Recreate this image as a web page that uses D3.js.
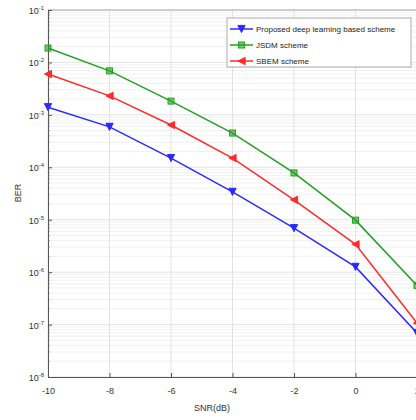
<!DOCTYPE html>
<html lang="en">
<head>
<meta charset="UTF-8">
<title>BER vs SNR</title>
<script src="https://d3js.org/d3.v7.min.js"></script>
<style>
  body { margin: 0; background: #fff; }
  svg { font-family: "Liberation Sans", Arial, sans-serif; display: block; }
</style>
</head>
<body>
<svg id="chart" width="416" height="420"></svg>
<script>
  // data
  var snr = [-10, -8, -6, -4, -2, 0, 2];
  var proposed = [1.4e-3, 5.9e-4, 1.5e-4, 3.4e-5, 6.9e-6, 1.26e-6, 6.9e-8];
  var jsdm = [1.88e-2, 6.9e-3, 1.83e-3, 4.5e-4, 7.8e-5, 9.8e-6, 5.6e-7];
  var sbem = [6.0e-3, 2.3e-3, 6.4e-4, 1.5e-4, 2.4e-5, 3.4e-6, 1.07e-7];
  var seriesNames = ["Proposed deep learning based scheme", "JSDM scheme", "SBEM scheme"];
  var xTicks = [-10, -8, -6, -4, -2, 0, 2];
  var yExps = [-1, -2, -3, -4, -5, -6, -7, -8];

  var svg = d3.select("#chart");
  var plotLeft = 48, plotRight = 417, plotTop = 10, plotBottom = 377;

  var x = d3.scaleLinear().domain([-10, 2]).range([plotLeft, plotRight]);
  var y = d3.scaleLog().domain([1e-8, 1e-1]).range([plotBottom, plotTop]);

  // minor grid
  var minor = [];
  for (var e = -8; e < -1; e++) {
    for (var m = 2; m <= 9; m++) minor.push(m * Math.pow(10, e));
  }
  svg.append("g").selectAll("line").data(minor).enter().append("line")
    .attr("x1", plotLeft).attr("x2", plotRight)
    .attr("y1", function(d) { return y(d); }).attr("y2", function(d) { return y(d); })
    .attr("stroke", "#eeeeee").attr("stroke-width", 0.8);

  // major grid
  svg.append("g").selectAll("line").data(yExps).enter().append("line")
    .attr("x1", plotLeft).attr("x2", plotRight)
    .attr("y1", function(d) { return y(Math.pow(10, d)); })
    .attr("y2", function(d) { return y(Math.pow(10, d)); })
    .attr("stroke", "#dcdcdc").attr("stroke-width", 0.8);
  svg.append("g").selectAll("line").data(xTicks).enter().append("line")
    .attr("y1", plotTop).attr("y2", plotBottom)
    .attr("x1", function(d) { return x(d); }).attr("x2", function(d) { return x(d); })
    .attr("stroke", "#dcdcdc").attr("stroke-width", 0.8);

  // box top
  svg.append("line").attr("x1", plotLeft).attr("x2", plotRight).attr("y1", plotTop).attr("y2", plotTop)
    .attr("stroke", "#999").attr("stroke-width", 0.8);

  // axes
  var xAxis = d3.axisBottom(x).tickValues(xTicks).tickSize(-4).tickFormat(d3.format("d"));
  var gx = svg.append("g").attr("transform", "translate(0," + plotBottom + ")").call(xAxis);
  gx.select(".domain").attr("stroke", "#555");
  gx.selectAll(".tick line").attr("stroke", "#555");
  gx.selectAll(".tick text").attr("dy", "1.5em").attr("fill", "#333").style("font-size", "9px")
    .text(function(d) { return d; });

  var yAxis = d3.axisLeft(y).tickValues(yExps.map(function(e) { return Math.pow(10, e); }))
    .tickSize(-4).tickFormat(function() { return ""; });
  var gy = svg.append("g").attr("transform", "translate(" + plotLeft + ",0)").call(yAxis);
  gy.select(".domain").attr("stroke", "#555");
  gy.selectAll(".tick line").attr("stroke", "#555");
  // minor ticks on y
  gy.append("g").selectAll("line").data(minor).enter().append("line")
    .attr("x1", 0).attr("x2", 2)
    .attr("y1", function(d) { return y(d); }).attr("y2", function(d) { return y(d); })
    .attr("stroke", "#777").attr("stroke-width", 0.6);

  // y tick labels 10^n
  var yl = svg.append("g").selectAll("text").data(yExps).enter().append("text")
    .attr("x", plotLeft - 4).attr("y", function(d) { return y(Math.pow(10, d)) + 4; })
    .attr("text-anchor", "end").attr("fill", "#333").style("font-size", "9px");
  yl.append("tspan").text("10");
  yl.append("tspan").attr("dy", -4).style("font-size", "6px").text(function(d) { return d; });

  // axis labels
  svg.append("text").attr("x", 212).attr("y", 411).attr("text-anchor", "middle")
    .attr("fill", "#333").style("font-size", "9px").text("SNR(dB)");
  svg.append("text").attr("transform", "translate(21,193) rotate(-90)")
    .attr("text-anchor", "middle").attr("fill", "#333").style("font-size", "9px").text("BER");

  // series
  var colors = ["#2b2bff", "#22a022", "#ff2b2b"];
  var datasets = [proposed, jsdm, sbem];
  var line = d3.line().x(function(d) { return x(d[0]); }).y(function(d) { return y(d[1]); });

  function marker(g, i, cx, cy) {
    var s = 3.6;
    if (i === 0) {
      g.append("path").attr("d", "M" + (cx - s) + "," + (cy - s) + "L" + (cx + s) + "," + (cy - s) + "L" + cx + "," + (cy + s) + "Z")
        .attr("fill", colors[i]).attr("stroke", colors[i]);
    } else if (i === 1) {
      g.append("rect").attr("x", cx - 3).attr("y", cy - 3).attr("width", 6).attr("height", 6)
        .attr("fill", colors[i]).attr("fill-opacity", 0.6).attr("stroke", colors[i]);
    } else {
      g.append("path").attr("d", "M" + (cx - s) + "," + cy + "L" + (cx + s) + "," + (cy - s) + "L" + (cx + s) + "," + (cy + s) + "Z")
        .attr("fill", colors[i]).attr("stroke", colors[i]);
    }
  }

  datasets.forEach(function(vals, i) {
    var pts = snr.map(function(s, k) { return [s, vals[k]]; });
    var g = svg.append("g");
    g.append("path").datum(pts).attr("d", line)
      .attr("fill", "none").attr("stroke", colors[i]).attr("stroke-width", 1.5);
    pts.forEach(function(p) { marker(g, i, x(p[0]), y(p[1])); });
  });

  // legend
  var lg = svg.append("g");
  lg.append("rect").attr("x", 227).attr("y", 18).attr("width", 184).attr("height", 49)
    .attr("fill", "#fff").attr("stroke", "#999").attr("stroke-width", 0.8);
  seriesNames.forEach(function(name, i) {
    var ly = 29 + i * 16;
    lg.append("line").attr("x1", 230).attr("x2", 253).attr("y1", ly).attr("y2", ly)
      .attr("stroke", colors[i]).attr("stroke-width", 1.5);
    marker(lg, i, 241.5, ly);
    lg.append("text").attr("x", 256).attr("y", ly + 3).attr("fill", "#222")
      .style("font-size", "8px").text(name);
  });
</script>
</body>
</html>
